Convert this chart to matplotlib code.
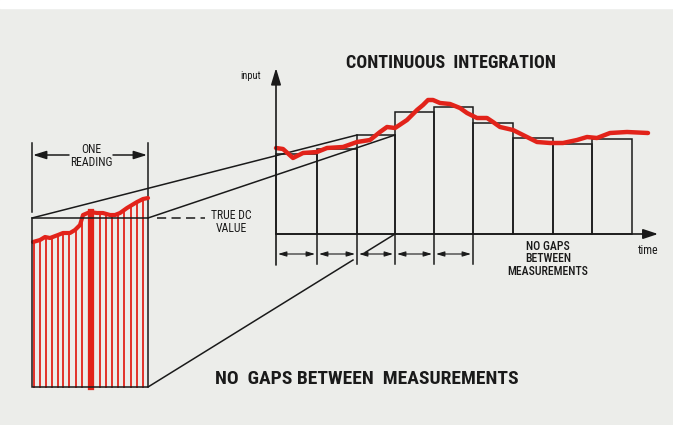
import numpy as np
import matplotlib
matplotlib.use("Agg")
import matplotlib.pyplot as plt
from matplotlib.patches import Rectangle

# canvas is laid out in picture pixels (y grows downward)
W, H = 673, 425
axis_y = 234          # time axis
axis_x = 276          # input axis

# integration periods (edges) and integrated value of each period
bar_edges = [276, 317, 357, 395, 434, 473, 513, 553, 592, 632]
bar_heights = [80, 85, 99, 122, 127, 111, 96, 90, 95]

# continuous input signal
sig_x = [276, 283, 293, 303, 317, 327, 343, 357, 370, 380, 387, 395, 407, 417,
         423, 428, 433, 440, 450, 460, 467, 477, 487, 493, 500, 513, 527, 537,
         550, 563, 577, 587, 597, 610, 627, 648]
sig_y = [148, 149, 158, 153, 152, 148, 147, 142, 140, 132, 127, 128, 120, 110,
         105, 100, 100, 103, 104, 108, 113, 118, 118, 122, 127, 130, 137, 142,
         143, 143, 140, 137, 138, 133, 132, 133]

# zoomed single reading (left box)
box = (32, 218, 148, 387)   # left, top, right, bottom
zoom_x = [33, 40, 45, 50, 58, 63, 70, 75, 80, 83, 90, 97, 103, 110, 115, 120,
          127, 132, 137, 143, 148]
zoom_y = [242, 240, 237, 238, 235, 233, 233, 230, 225, 215, 212, 213, 213, 215,
          215, 213, 208, 205, 202, 199, 198]
sample_x = [34, 40, 46, 52, 58, 63, 69, 76, 82, 91, 100, 106, 112, 118, 124,
            131, 137, 143]
thick_sample = 91

RED = "#e2231a"
INK = "#1a1a1a"
FONT = ["Roboto Condensed", "Archivo Narrow", "Barlow Semi Condensed", "DejaVu Sans"]

fig = plt.figure(figsize=(W / 100, H / 100), dpi=100)
fig.patch.set_facecolor("#ecedea")
ax = fig.add_axes([0, 0, 1, 1])
ax.set_xlim(0, W)
ax.set_ylim(H, 0)
ax.axis("off")
ax.add_patch(Rectangle((0, 0), W, 8, color="white", zorder=0))

# -----------------------------
# main chart: bars + signal
# -----------------------------
lefts = bar_edges[:-1]
widths = np.diff(bar_edges)
ax.bar(lefts, [-h for h in bar_heights], width=widths, bottom=axis_y,
       align="edge", fill=False, edgecolor=INK, linewidth=1.1, zorder=2)
ax.plot(sig_x, sig_y, color=RED, linewidth=3.2, solid_capstyle="round", zorder=3)

# axes with arrows
ax.annotate("", xy=(axis_x, 68), xytext=(axis_x, 265),
            arrowprops=dict(arrowstyle="-|>,head_length=1.0,head_width=0.3",
                            color=INK, lw=1.2, shrinkA=0, shrinkB=0))
ax.annotate("", xy=(658, axis_y), xytext=(axis_x, axis_y),
            arrowprops=dict(arrowstyle="-|>,head_length=0.9,head_width=0.3",
                            color=INK, lw=1.2, shrinkA=0, shrinkB=0))
ax.text(251, 76, "input", fontsize=7.5, family=FONT, color=INK, ha="center", va="center")
ax.text(648, 250, "time", fontsize=8.5, family=FONT, color=INK, ha="center", va="center")

# period ticks and arrows below the axis
for e in bar_edges[1:6]:
    ax.plot([e, e], [axis_y, 264], color=INK, lw=1.1, zorder=2)
for a, b in zip(bar_edges[:5], bar_edges[1:6]):
    ax.annotate("", xy=(b - 2, 254), xytext=(a + 2, 254),
                arrowprops=dict(arrowstyle="<|-|>,head_length=0.5,head_width=0.15",
                                color=INK, lw=0.8, shrinkA=0, shrinkB=0))

ax.text(451, 63, "CONTINUOUS  INTEGRATION", fontsize=13, family=FONT,
        weight="bold", color=INK, ha="center", va="center")
ax.text(548, 259, "NO GAPS\nBETWEEN\nMEASUREMENTS", fontsize=8.5, family=FONT,
        weight="medium", color=INK, ha="center", va="center", linespacing=0.95)

# -----------------------------
# left box: one reading
# -----------------------------
bl, bt, br, bb = box
ax.add_patch(Rectangle((bl, bt), br - bl, bb - bt, fill=False, edgecolor=INK,
                       lw=1.1, zorder=4))
tops = np.interp(sample_x, zoom_x, zoom_y)
for sx, ty in zip(sample_x, tops):
    lw = 4.5 if sx == thick_sample else 1.3
    ax.plot([sx, sx], [bb, ty], color=RED, lw=lw, zorder=2)
ax.plot(zoom_x, zoom_y, color=RED, linewidth=3.0, solid_capstyle="round", zorder=3)

# dimension lines + ONE READING
ax.plot([bl, bl], [143, 212], color=INK, lw=1.1)
ax.plot([br, br], [143, bt], color=INK, lw=1.1)
ax.annotate("", xy=(bl + 1, 155), xytext=(69, 155),
            arrowprops=dict(arrowstyle="-|>,head_length=0.8,head_width=0.25",
                            color=INK, lw=1.1, shrinkA=0, shrinkB=0))
ax.annotate("", xy=(br - 1, 155), xytext=(113, 155),
            arrowprops=dict(arrowstyle="-|>,head_length=0.8,head_width=0.25",
                            color=INK, lw=1.1, shrinkA=0, shrinkB=0))
ax.text(91, 156, "ONE\nREADING", fontsize=8.5, family=FONT, color=INK,
        ha="center", va="center", linespacing=0.95)

# true DC value
ax.plot([157, 205], [bt, bt], color=INK, lw=1.1, dashes=(6, 3.5))
ax.text(231, 222, "TRUE DC\nVALUE", fontsize=8.5, family=FONT, color=INK,
        ha="center", va="center", linespacing=0.95)

# perspective lines to the third period
p_left, p_right = bar_edges[2], bar_edges[3]
p_top = axis_y - bar_heights[2]
ax.plot([bl, p_left], [bt, p_top], color=INK, lw=1.1, zorder=1)
ax.plot([br, p_right], [bt, p_top], color=INK, lw=1.1, zorder=1)
t = np.array([0.0, 0.83, 0.88, 1.0])
lx = br + (p_right - br) * t
ly = bb + (axis_y - bb) * t
ax.plot(lx[:2], ly[:2], color=INK, lw=1.1)
ax.plot(lx[2:], ly[2:], color=INK, lw=1.1)

ax.text(367, 379, "NO  GAPS BETWEEN  MEASUREMENTS", fontsize=14, family=FONT,
        weight="bold", color=INK, ha="center", va="center")

fig.savefig("out.png", dpi=100, facecolor=fig.get_facecolor())
